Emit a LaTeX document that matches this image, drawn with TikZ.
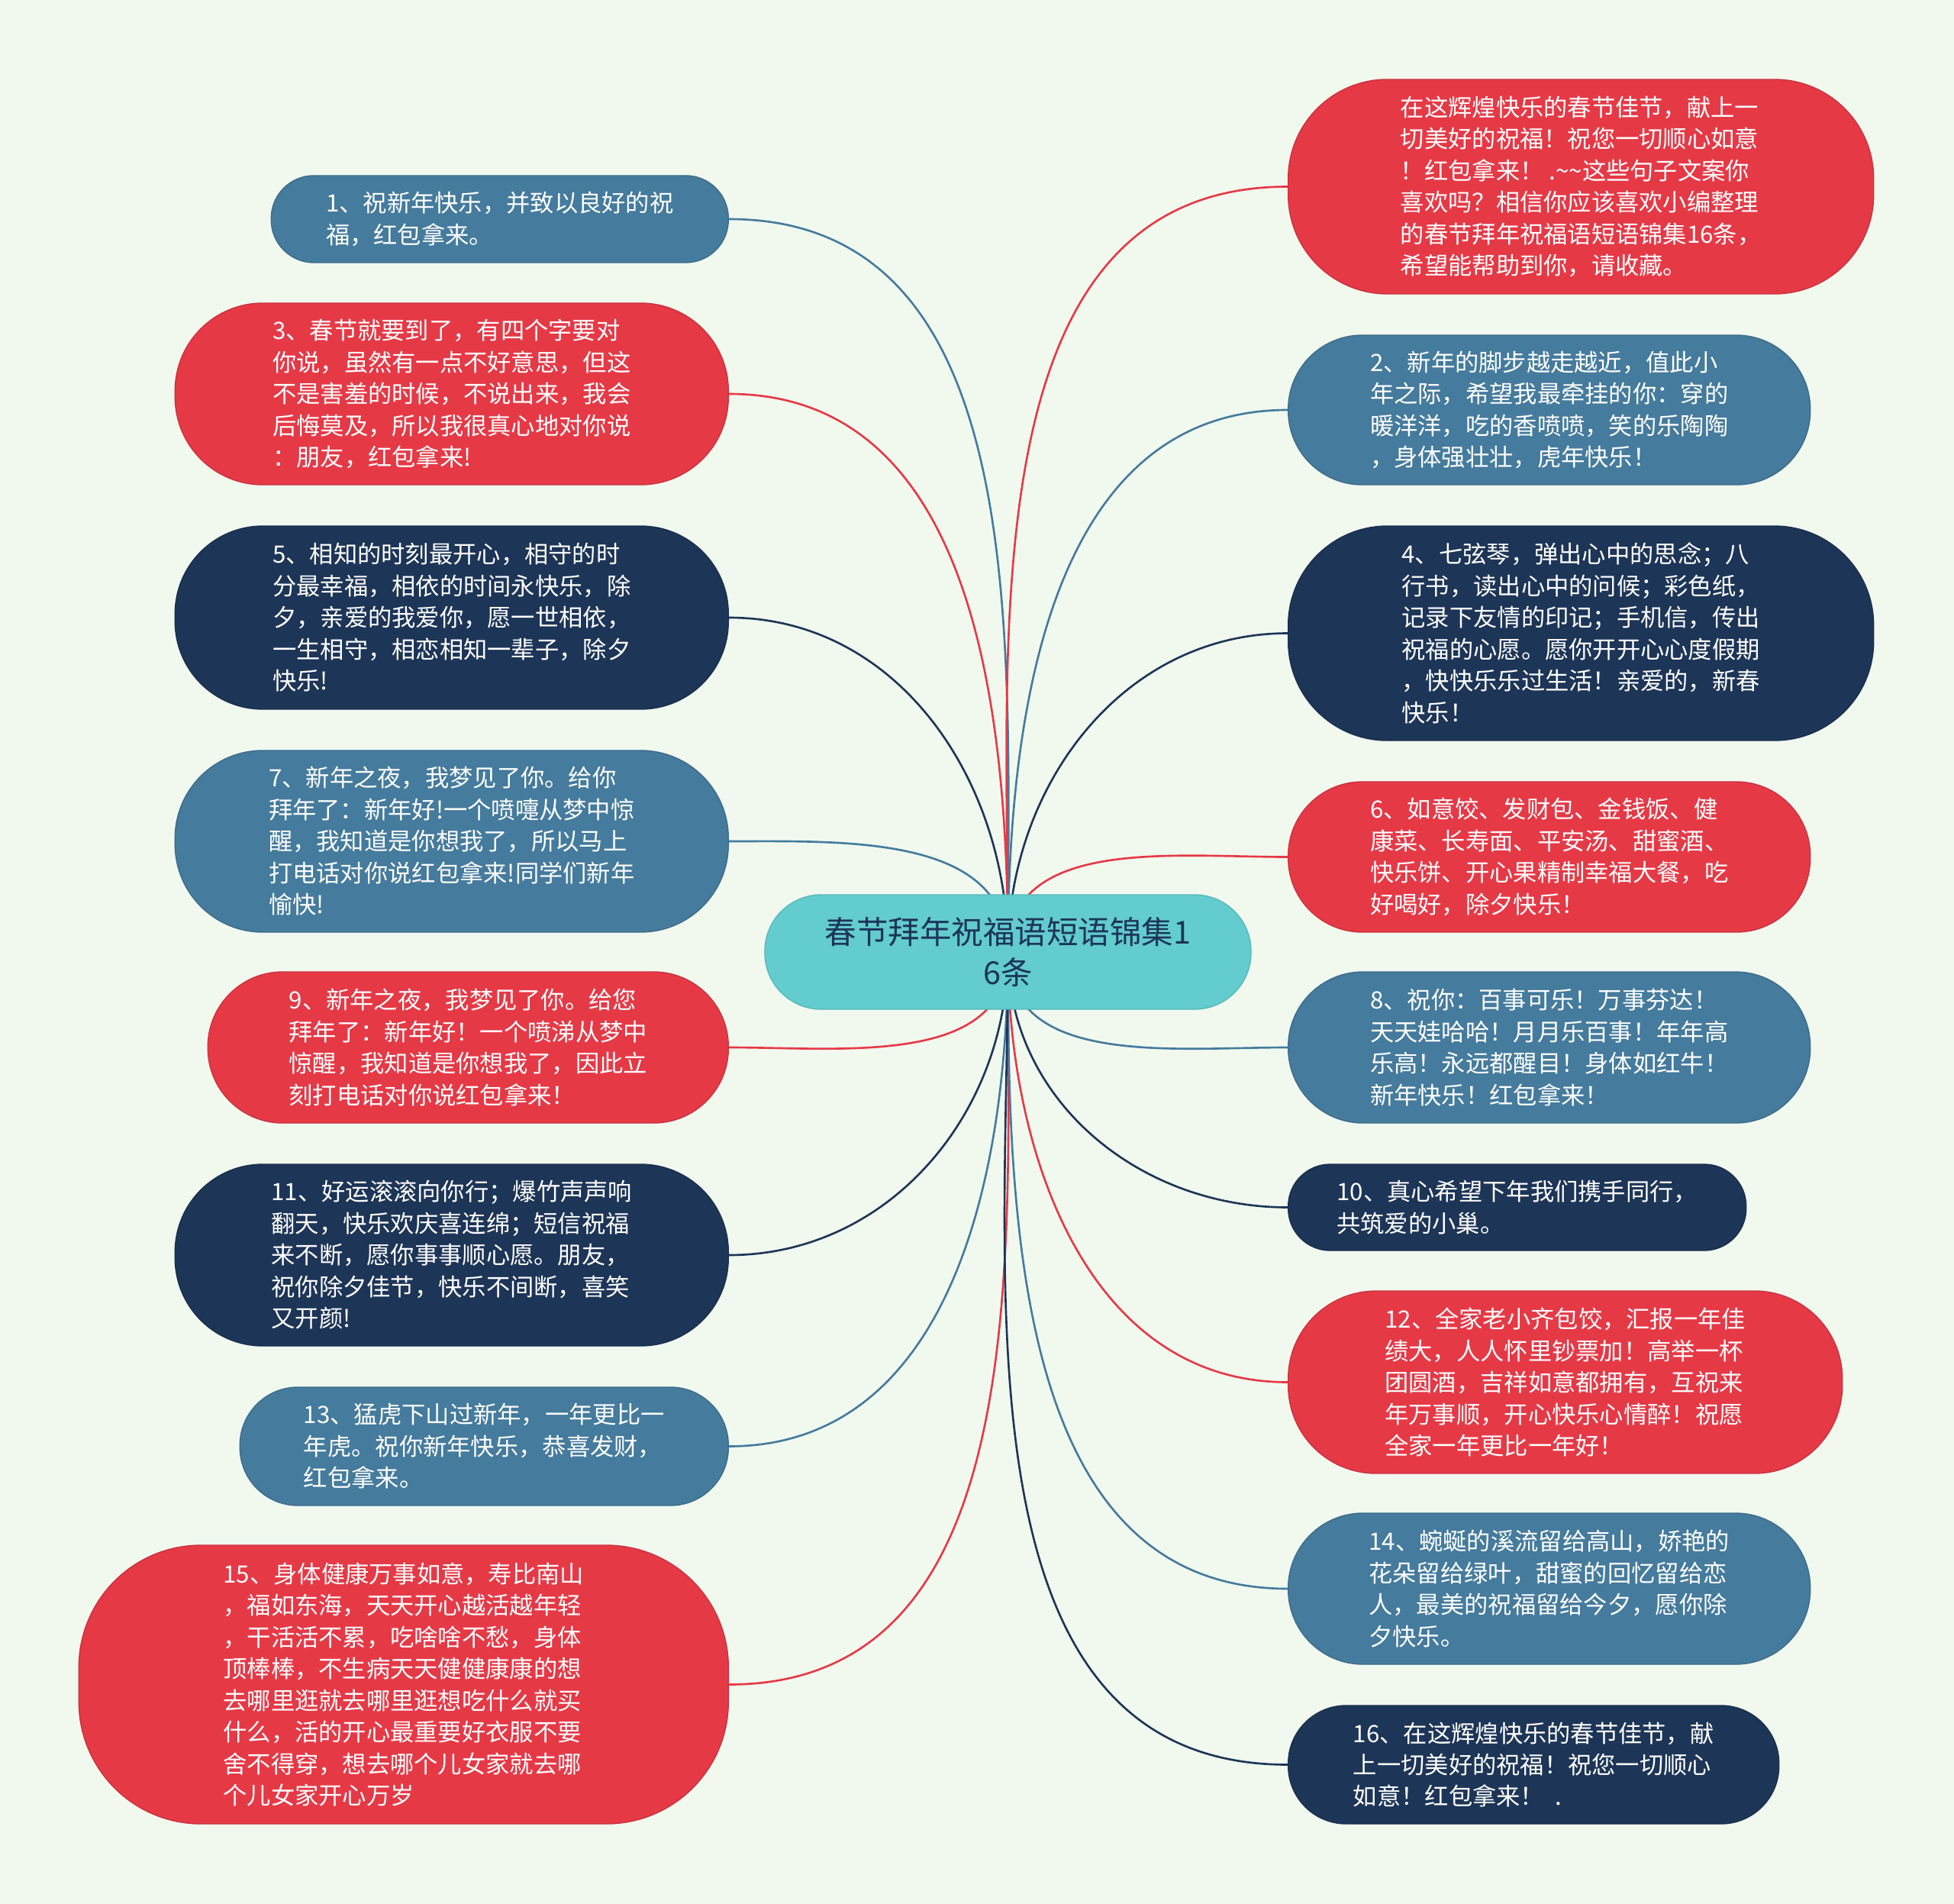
\documentclass[tikz,border=0pt]{standalone}
\usepackage{fontspec}
\newfontfamily\cjkfont{Noto Sans CJK SC}
\usepackage{xcolor}
\usepackage{tikz}
\usetikzlibrary{backgrounds}

\definecolor{fondo}{RGB}{241,249,239}
\definecolor{rojo}{RGB}{230,57,70}
\definecolor{azul}{RGB}{69,123,157}
\definecolor{marino}{RGB}{29,53,87}
\definecolor{turquesa}{RGB}{98,204,206}

\begin{document}
\begin{tikzpicture}[
    font=\cjkfont\fontsize{8.9}{11.8}\selectfont,
    hoja/.style={align=left, text=white, inner sep=0pt, line width=0.4pt},
    roja/.style={hoja, fill=rojo, draw=rojo!88!black},
    azula/.style={hoja, fill=azul, draw=azul!88!black},
    oscura/.style={hoja, fill=marino, draw=marino!88!black},
    tema/.style={fill=turquesa, draw=turquesa!90!black, align=center, text=marino,
                 inner sep=0pt, font=\cjkfont\fontsize{11.8}{15.3}\selectfont},
    rama/.style={line width=0.75pt}
  ]
  \useasboundingbox (0,0) rectangle (25.6,-24.94);

  % --- Tema central ---
  \node[tema, minimum width=6.37cm, minimum height=1.50cm, rounded corners=0.74cm]
       (tema) at (13.205,-12.47) {春节拜年祝福语短语锦集1\\6条};

  % --- Lado izquierdo ---
  \node[azula, anchor=east, minimum width=5.99cm, minimum height=1.14cm,
        rounded corners=0.56cm] (n1) at (9.55,-2.87)
       {1、祝新年快乐，并致以良好的祝\\福，红包拿来。};
  \node[roja, anchor=east, minimum width=7.25cm, minimum height=2.38cm,
        rounded corners=1.15cm] (n3) at (9.55,-5.16)
       {3、春节就要到了，有四个字要对\\你说，虽然有一点不好意思，但这\\不是害羞的时候，不说出来，我会\\后悔莫及，所以我很真心地对你说\\：朋友，红包拿来!};
  \node[oscura, anchor=east, minimum width=7.25cm, minimum height=2.40cm,
        rounded corners=1.15cm] (n5) at (9.55,-8.09)
       {5、相知的时刻最开心，相守的时\\分最幸福，相依的时间永快乐，除\\夕，亲爱的我爱你，愿一世相依，\\一生相守，相恋相知一辈子，除夕\\快乐!};
  \node[azula, anchor=east, minimum width=7.25cm, minimum height=2.38cm,
        rounded corners=1.15cm] (n7) at (9.55,-11.02)
       {7、新年之夜，我梦见了你。给你\\拜年了：新年好!一个喷嚏从梦中惊\\醒，我知道是你想我了，所以马上\\打电话对你说红包拿来!同学们新年\\愉快!};
  \node[roja, anchor=east, minimum width=6.82cm, minimum height=1.98cm,
        rounded corners=0.98cm] (n9) at (9.55,-13.72)
       {9、新年之夜，我梦见了你。给您\\拜年了：新年好！一个喷涕从梦中\\惊醒，我知道是你想我了，因此立\\刻打电话对你说红包拿来！};
  \node[oscura, anchor=east, minimum width=7.25cm, minimum height=2.38cm,
        rounded corners=1.15cm] (n11) at (9.55,-16.44)
       {11、好运滚滚向你行；爆竹声声响\\翻天，快乐欢庆喜连绵；短信祝福\\来不断，愿你事事顺心愿。朋友，\\祝你除夕佳节，快乐不间断，喜笑\\又开颜!};
  \node[azula, anchor=east, minimum width=6.40cm, minimum height=1.55cm,
        rounded corners=0.76cm] (n13) at (9.55,-18.945)
       {13、猛虎下山过新年，一年更比一\\年虎。祝你新年快乐，恭喜发财，\\红包拿来。};
  \node[roja, anchor=east, minimum width=8.51cm, minimum height=3.65cm,
        rounded corners=1.6cm] (n15) at (9.55,-22.065)
       {15、身体健康万事如意，寿比南山\\，福如东海，天天开心越活越年轻\\，干活活不累，吃啥啥不愁，身体\\顶棒棒，不生病天天健健康康的想\\去哪里逛就去哪里逛想吃什么就买\\什么，活的开心最重要好衣服不要\\舍不得穿，想去哪个儿女家就去哪\\个儿女家开心万岁};

  % --- Lado derecho ---
  \node[roja, anchor=west, minimum width=7.67cm, minimum height=2.81cm,
        rounded corners=1.3cm] (n0) at (16.87,-2.445)
       {在这辉煌快乐的春节佳节，献上一\\切美好的祝福！祝您一切顺心如意\\！红包拿来！ .\textasciitilde\textasciitilde 这些句子文案你\\喜欢吗？相信你应该喜欢小编整理\\的春节拜年祝福语短语锦集16条，\\希望能帮助到你，请收藏。};
  \node[azula, anchor=west, minimum width=6.84cm, minimum height=1.96cm,
        rounded corners=0.97cm] (n2) at (16.87,-5.37)
       {2、新年的脚步越走越近，值此小\\年之际，希望我最牵挂的你：穿的\\暖洋洋，吃的香喷喷，笑的乐陶陶\\，身体强壮壮，虎年快乐！};
  \node[oscura, anchor=west, minimum width=7.67cm, minimum height=2.81cm,
        rounded corners=1.3cm] (n4) at (16.87,-8.295)
       {4、七弦琴，弹出心中的思念；八\\行书，读出心中的问候；彩色纸，\\记录下友情的印记；手机信，传出\\祝福的心愿。愿你开开心心度假期\\，快快乐乐过生活！亲爱的，新春\\快乐！};
  \node[roja, anchor=west, minimum width=6.84cm, minimum height=1.97cm,
        rounded corners=0.97cm] (n6) at (16.87,-11.225)
       {6、如意饺、发财包、金钱饭、健\\康菜、长寿面、平安汤、甜蜜酒、\\快乐饼、开心果精制幸福大餐，吃\\好喝好，除夕快乐！};
  \node[azula, anchor=west, minimum width=6.84cm, minimum height=1.98cm,
        rounded corners=0.98cm] (n8) at (16.87,-13.72)
       {8、祝你：百事可乐！万事芬达！\\天天娃哈哈！月月乐百事！年年高\\乐高！永远都醒目！身体如红牛！\\新年快乐！红包拿来！};
  \node[oscura, anchor=west, minimum width=6.00cm, minimum height=1.13cm,
        rounded corners=0.55cm] (n10) at (16.87,-15.815)
       {10、真心希望下年我们携手同行，\\共筑爱的小巢。};
  \node[roja, anchor=west, minimum width=7.26cm, minimum height=2.39cm,
        rounded corners=1.15cm] (n12) at (16.87,-18.105)
       {12、全家老小齐包饺，汇报一年佳\\绩大，人人怀里钞票加！高举一杯\\团圆酒，吉祥如意都拥有，互祝来\\年万事顺，开心快乐心情醉！祝愿\\全家一年更比一年好！};
  \node[azula, anchor=west, minimum width=6.84cm, minimum height=1.98cm,
        rounded corners=0.98cm] (n14) at (16.87,-20.81)
       {14、蜿蜒的溪流留给高山，娇艳的\\花朵留给绿叶，甜蜜的回忆留给恋\\人，最美的祝福留给今夕，愿你除\\夕快乐。};
  \node[oscura, anchor=west, minimum width=6.43cm, minimum height=1.55cm,
        rounded corners=0.76cm] (n16) at (16.87,-23.115)
       {16、在这辉煌快乐的春节佳节，献\\上一切美好的祝福！祝您一切顺心\\如意！红包拿来！ \ .};

  % --- Fondo y ramas (debajo de los nodos) ---
  \begin{pgfonlayer}{background}
    \fill[fondo] (0,0) rectangle (25.6,-24.94);

    \draw[rama, azul]   (tema.center) to[out=90,in=0]  (n1.east);
    \draw[rama, rojo]   (tema.center) to[out=90,in=0]  (n3.east);
    \draw[rama, marino] (tema.center) to[out=90,in=0]  (n5.east);
    \draw[rama, azul]   (tema.center) to[out=90,in=0]  (n7.east);
    \draw[rama, rojo]   (tema.center) to[out=-90,in=0] (n9.east);
    \draw[rama, marino] (tema.center) to[out=-90,in=0] (n11.east);
    \draw[rama, azul]   (tema.center) to[out=-90,in=0] (n13.east);
    \draw[rama, rojo]   (tema.center) to[out=-90,in=0] (n15.east);

    \draw[rama, rojo]   (tema.center) to[out=90,in=180]  (n0.west);
    \draw[rama, azul]   (tema.center) to[out=90,in=180]  (n2.west);
    \draw[rama, marino] (tema.center) to[out=90,in=180]  (n4.west);
    \draw[rama, rojo]   (tema.center) to[out=90,in=180]  (n6.west);
    \draw[rama, azul]   (tema.center) to[out=-90,in=180] (n8.west);
    \draw[rama, marino] (tema.center) to[out=-90,in=180] (n10.west);
    \draw[rama, rojo]   (tema.center) to[out=-90,in=180] (n12.west);
    \draw[rama, azul]   (tema.center) to[out=-90,in=180] (n14.west);
    \draw[rama, marino] (tema.center) to[out=-90,in=180] (n16.west);
  \end{pgfonlayer}
\end{tikzpicture}
\end{document}
